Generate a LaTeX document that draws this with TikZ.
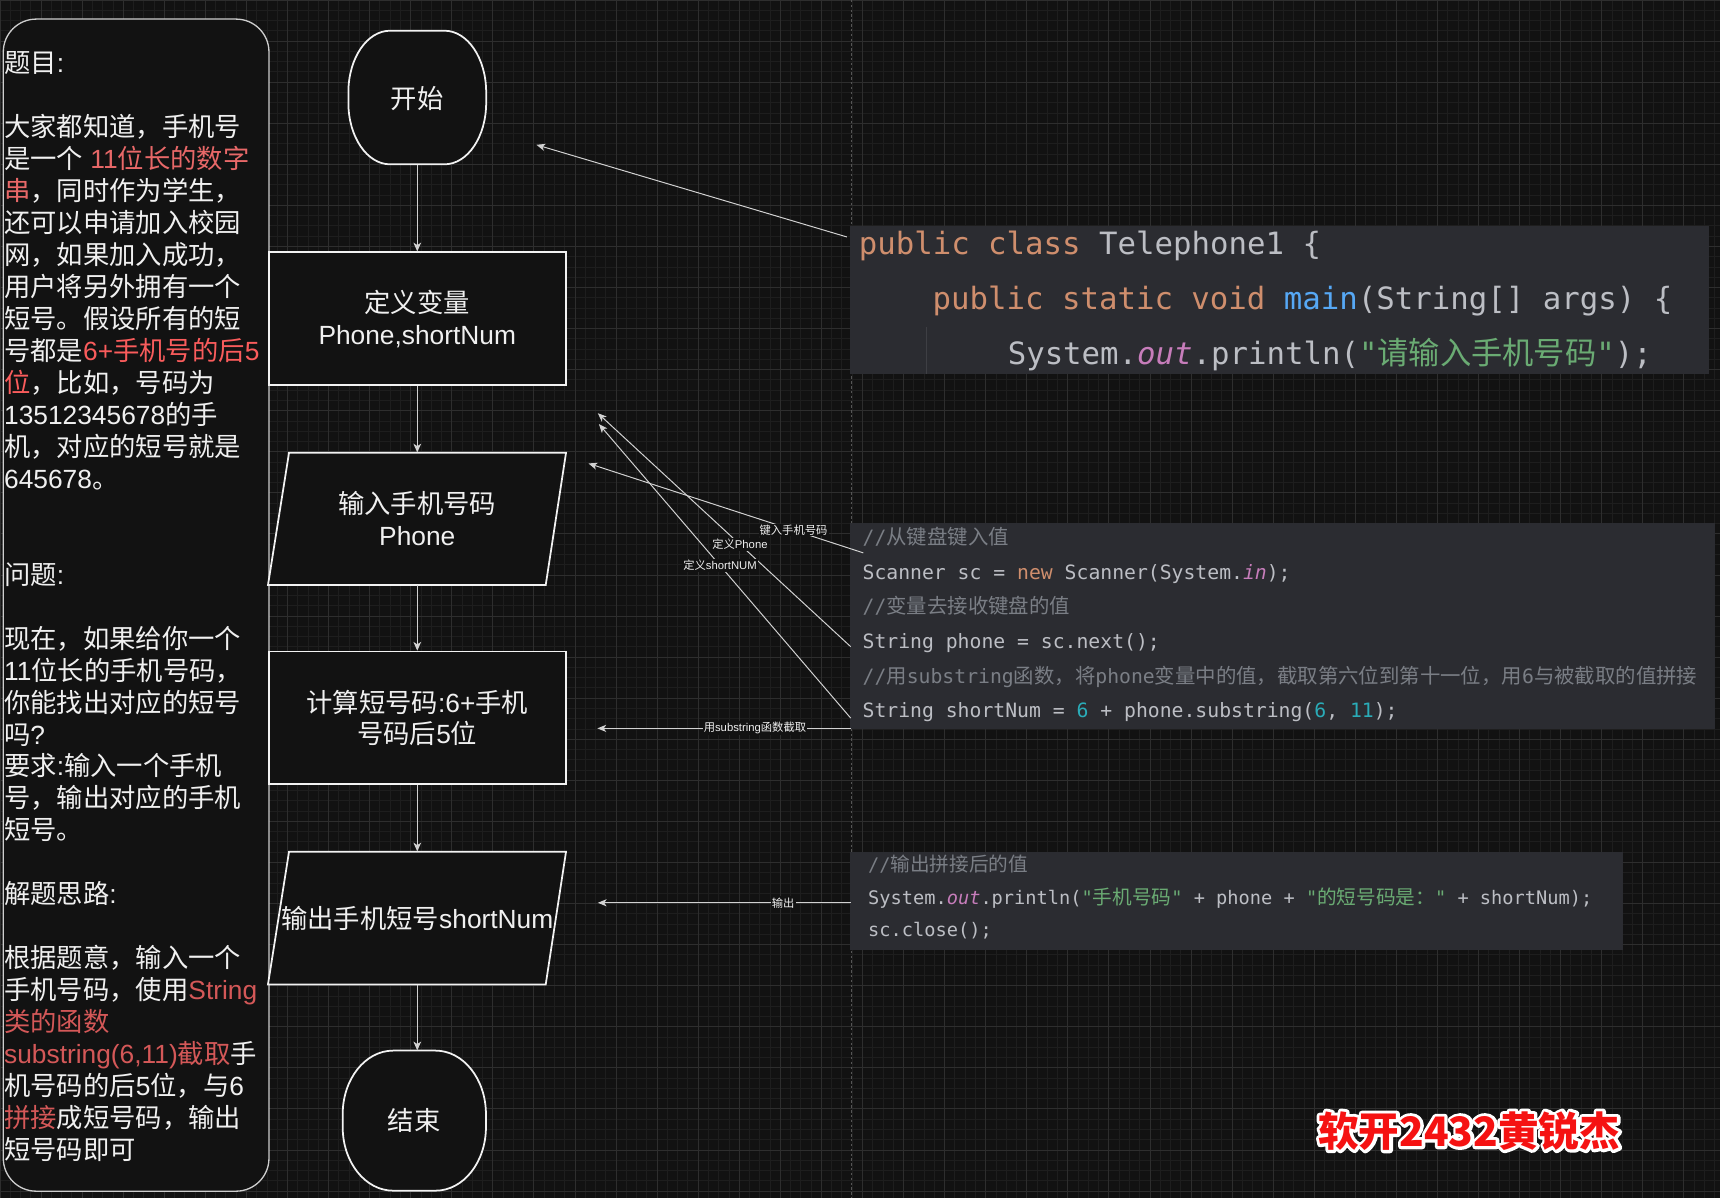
\documentclass[tikz,border=0pt]{standalone}
\usepackage{fontspec}
\setmainfont{Liberation Sans}
\setmonofont{DejaVu Sans Mono}
\newfontfamily\cjk{Noto Sans CJK SC}
\usetikzlibrary{arrows.meta}
\definecolor{bg}{RGB}{18,18,18}
\definecolor{minorc}{RGB}{30,30,30}
\definecolor{majorc}{RGB}{46,46,46}
\definecolor{pagec}{RGB}{85,85,85}
\definecolor{shapec}{RGB}{242,242,242}
\definecolor{txtc}{RGB}{240,240,240}
\definecolor{descc}{RGB}{205,205,205}
\definecolor{linkc}{RGB}{210,210,210}
\definecolor{redA}{RGB}{232,104,104}
\definecolor{redB}{RGB}{250,92,92}
\definecolor{redC}{RGB}{212,88,88}
\definecolor{codebg}{RGB}{43,44,49}
\definecolor{cdef}{HTML}{BCBEC4}
\definecolor{ckw}{HTML}{CF8E6D}
\definecolor{cfn}{HTML}{56A8F5}
\definecolor{cout}{HTML}{C77DBB}
\definecolor{cstr}{HTML}{6AAB73}
\definecolor{ccom}{HTML}{7A7E85}
\definecolor{cnum}{HTML}{2AACB8}
\definecolor{guidec}{RGB}{62,63,68}
\definecolor{wmred}{RGB}{245,18,18}
\newcommand\zh[1]{{\cjk #1}}
\newcommand\zk[1]{{\cjk\fontsize{28.5}{30}\selectfont #1}}
\newcommand\zc[1]{{\cjk\fontsize{18.6}{20}\selectfont #1}}
\newcommand\zd[1]{{\cjk\fontsize{17.9}{20}\selectfont #1}}
\newcommand\flowfont{\fontsize{24}{29}\selectfont}
\newcommand\ra[1]{{\color{redA}#1}}
\newcommand\rb[1]{{\color{redB}#1}}
\newcommand\rc[1]{{\color{redC}#1}}
\newcommand\dl[2]{\node[desctext] (d#1) at (3.6,{66.1+#1*29.15}) {#2};}
\newcommand\termshape[6]{%
  \pgfmathsetmacro\xa{#1-#3/2}\pgfmathsetmacro\xb{#1+#3/2}%
  \pgfmathsetmacro\ya{#2-#4/2}\pgfmathsetmacro\yb{#2+#4/2}%
  \pgfmathsetmacro\kx{0.5523*#5}\pgfmathsetmacro\ky{0.5523*#6}%
  \filldraw[shapeline] (\xa+#5,\ya) -- (\xb-#5,\ya)
    .. controls (\xb-#5+\kx,\ya) and (\xb,\ya+#6-\ky) .. (\xb,\ya+#6)
    -- (\xb,\yb-#6)
    .. controls (\xb,\yb-#6+\ky) and (\xb-#5+\kx,\yb) .. (\xb-#5,\yb)
    -- (\xa+#5,\yb)
    .. controls (\xa+#5-\kx,\yb) and (\xa,\yb-#6+\ky) .. (\xa,\yb-#6)
    -- (\xa,\ya+#6)
    .. controls (\xa,\ya+#6-\ky) and (\xa+#5-\kx,\ya) .. cycle;}
\begin{document}
\begin{tikzpicture}[x=1pt,y=-1pt,
  minorg/.style={draw=minorc, line width=0.8pt},
  majorg/.style={draw=majorc, line width=0.8pt},
  pagebrk/.style={draw=pagec, line width=0.9pt, dash pattern=on 2.2pt off 2.2pt},
  descbox/.style={draw=descc, line width=1.2pt, fill=bg, rounded corners=30pt, inner sep=0pt},
  desctext/.style={anchor=base west, inner sep=0pt, text=txtc, font=\fontsize{24}{29}\selectfont},
  shapeline/.style={draw=shapec, line width=1.6pt, fill=bg},
  procbox/.style={shapeline, minimum width=271pt, minimum height=121pt, inner sep=0pt, align=center, text=txtc, font=\flowfont},
  hidden/.style={inner sep=0pt, align=center, text=txtc, font=\flowfont},
  codebox/.style={fill=codebg, draw=none, anchor=north west, inner sep=0pt},
  codeA/.style={anchor=base west, inner sep=0pt, text=cdef, font=\ttfamily\fontsize{28}{30}\selectfont},
  codeB/.style={anchor=base west, inner sep=0pt, text=cdef, font=\ttfamily\fontsize{18}{20}\selectfont},
  codeC/.style={anchor=base west, inner sep=0pt, text=cdef, font=\ttfamily\fontsize{17}{20}\selectfont},
  flow/.style={draw=linkc, line width=1pt, -{Stealth[length=8pt,width=7pt,inset=2.2pt]}},
  link/.style={draw=linkc, line width=0.9pt, -{Stealth[length=8pt,width=6.5pt,inset=2.2pt]}},
  lbl/.style={fill=bg, text=txtc, inner sep=1pt, font=\fontsize{10.3}{12}\selectfont},
  wm/.style={inner sep=0pt, font=\cjk\bfseries\fontsize{37}{40}\selectfont}
]
\useasboundingbox (0,0) rectangle (1568,1092);
\fill[bg] (0,0) rectangle (1568,1092);
% grid
\foreach \i in {0,...,167} \draw[minorg] ({\i*9.36},0) -- ({\i*9.36},1092);
\foreach \i in {0,...,116} \draw[minorg] (0,{\i*9.36}) -- (1568,{\i*9.36});
\foreach \i in {0,...,41} \draw[majorg] ({\i*37.44},0) -- ({\i*37.44},1092);
\foreach \i in {0,...,29} \draw[majorg] (0,{\i*37.44}) -- (1568,{\i*37.44});
% page break line
\draw[pagebrk] (775.8,0) -- (775.8,1092);

% description box
\node[descbox, anchor=north west, minimum width=242.2pt, minimum height=1068.5pt] (desc) at (2.4,16.8) {};
\dl{0}{\zh{题目}:}
\dl{2}{\zh{大家都知道，手机号}}
\dl{3}{\zh{是一个} \ra{11\zh{位长的数字}}}
\dl{4}{\ra{\zh{串}}\zh{，同时作为学生，}}
\dl{5}{\zh{还可以申请加入校园}}
\dl{6}{\zh{网，如果加入成功，}}
\dl{7}{\zh{用户将另外拥有一个}}
\dl{8}{\zh{短号。假设所有的短}}
\dl{9}{\zh{号都是}\rb{6+\zh{手机号的后}5}}
\dl{10}{\rb{\zh{位}}\zh{，比如，号码为}}
\dl{11}{13512345678\zh{的手}}
\dl{12}{\zh{机，对应的短号就是}}
\dl{13}{645678\zh{。}}
\dl{16}{\zh{问题}:}
\dl{18}{\zh{现在，如果给你一个}}
\dl{19}{11\zh{位长的手机号码，}}
\dl{20}{\zh{你能找出对应的短号}}
\dl{21}{\zh{吗}?}
\dl{22}{\zh{要求}:\zh{输入一个手机}}
\dl{23}{\zh{号，输出对应的手机}}
\dl{24}{\zh{短号。}}
\dl{26}{\zh{解题思路}:}
\dl{28}{\zh{根据题意，输入一个}}
\dl{29}{\zh{手机号码，使用}\rc{String}}
\dl{30}{\rc{\zh{类的函数}}}
\dl{31}{\rc{substring(6,11)\zh{截取}}\zh{手}}
\dl{32}{\zh{机号码的后}5\zh{位，与}6}
\dl{33}{\rc{\zh{拼接}}\zh{成短号码，输出}}
\dl{34}{\zh{短号码即可}}

% flowchart
\termshape{380.4}{88.9}{125.6}{121.8}{38}{56}
\node[hidden, minimum width=125.6pt, minimum height=121.8pt] (start) at (380.4,89.6) {\zh{开始}};
\node[procbox] (def) at (380.4,290.5) {\zh{定义变量}\\Phone,shortNum};
\filldraw[shapeline] (263.5,412.7) -- (516,412.7) -- (497.5,533.3) -- (244.3,533.3) -- cycle;
\node[hidden, minimum width=271.7pt, minimum height=120.6pt] (inp) at (380.4,473) {\zh{输入手机号码}\\Phone};
\node[procbox] (calc) at (380.4,654.5) {\zh{计算短号码}:6+\zh{手机}\\\zh{号码后}5\zh{位}};
\filldraw[shapeline] (263.5,776.4) -- (516,776.4) -- (497.5,897.4) -- (244.3,897.4) -- cycle;
\node[hidden, minimum width=271.7pt, minimum height=121pt] (outp) at (380.4,836.9) {\zh{输出手机短号}shortNum};
\termshape{377.7}{1021.6}{130.6}{127.7}{46}{58}
\node[hidden, minimum width=130.6pt, minimum height=127.7pt] (stop) at (377.7,1021.6) {\zh{结束}};

\draw[flow] (start.south) -- (def.north);
\draw[flow] (def.south) -- (inp.north);
\draw[flow] (inp.south) -- (calc.north);
\draw[flow] (calc.south) -- (outp.north);
\draw[flow] (outp.south) -- (outp.south |- stop.north);

% code box 1
\node[codebox, minimum width=783pt, minimum height=135pt] (code1) at (775,206) {};
\draw[draw=guidec, line width=1pt] (845,297.8) -- (845,341);
\node[codeA] (c1a) at (782.7,232) {{\color{ckw}public class }Telephone1 \{};
\node[codeA] (c1b) at (850,282) {{\color{ckw}public static void }{\color{cfn}main}(String[] args) \{};
\node[codeA] (c1c) at (918.5,332) {System.{\color{cout}\itshape out}.println({\color{cstr}"\zk{请输入手机号码}"});};

% code box 2
\node[codebox, minimum width=788pt, minimum height=187pt] (code2) at (775,477) {};
\node[codeB] (c2a) at (786.2,496.6) {{\color{ccom}//\zc{从键盘键入值}}};
\node[codeB] (c2b) at (786.2,527.9) {Scanner sc = {\color{ckw}new} Scanner(System.{\color{cout}\itshape in});};
\node[codeB] (c2c) at (786.2,559.5) {{\color{ccom}//\zc{变量去接收键盘的值}}};
\node[codeB] (c2d) at (786.2,590.8) {String phone = sc.next();};
\node[codeB] (c2e) at (786.2,622.8) {{\color{ccom}//\zc{用}substring\zc{函数，将}phone\zc{变量中的值，截取第六位到第十一位，用}6\zc{与被截取的值拼接}}};
\node[codeB] (c2f) at (786.2,653.8) {String shortNum = {\color{cnum}6} + phone.substring({\color{cnum}6}, {\color{cnum}11});};

% code box 3
\node[codebox, minimum width=704.6pt, minimum height=89.6pt] (code3) at (775,776.4) {};
\node[codeC] (c3a) at (791.3,794.3) {{\color{ccom}//\zd{输出拼接后的值}}};
\node[codeC] (c3b) at (791.3,824.5) {System.{\color{cout}\itshape out}.println({\color{cstr}"\zd{手机号码}"} + phone + {\color{cstr}"\zd{的短号码是：}"} + shortNum);};
\node[codeC] (c3c) at (791.3,854) {sc.close();};

% connectors from code to flowchart
\coordinate (a1s) at (772,216);   \coordinate (a1t) at (489,132);
\coordinate (a2s) at (787,504);   \coordinate (a2t) at (536.5,422.5);
\coordinate (a3s) at (775.5,589.5); \coordinate (a3t) at (545,376.7);
\coordinate (a4s) at (775.5,654.6); \coordinate (a4t) at (546,386.6);
\coordinate (a5s) at (775.5,664); \coordinate (a5t) at (544.6,664);
\coordinate (a6s) at (775.5,823); \coordinate (a6t) at (545,823);
\draw[link] (a1s) -- (a1t);
\draw[link] (a2s) -- node[lbl, pos=0.254] (lb2) {\zh{键入手机号码}} (a2t);
\draw[link] (a3s) -- node[lbl, pos=0.438] (lb3) {\zh{定义}Phone} (a3t);
\draw[link] (a4s) -- node[lbl, pos=0.519] (lb4) {\zh{定义}shortNUM} (a4t);
\draw[link] (a5s) -- node[lbl, pos=0.378] (lb5) {\zh{用}substring\zh{函数截取}} (a5t);
\draw[link] (a6s) -- node[lbl, pos=0.267] (lb6) {\zh{输出}} (a6t);

% watermark: white stroked outline under red fill
\node[wm, text=white] (wmo) at (1339.4,1031) {\color{white}\special{pdf:literal direct 1 Tr 5.6 w 1 j 1 1 1 RG}软开2432黄锐杰\special{pdf:literal direct 0 Tr}};
\node[wm, text=wmred] (wmark) at (1339.4,1031) {软开2432黄锐杰};
\end{tikzpicture}
\end{document}
